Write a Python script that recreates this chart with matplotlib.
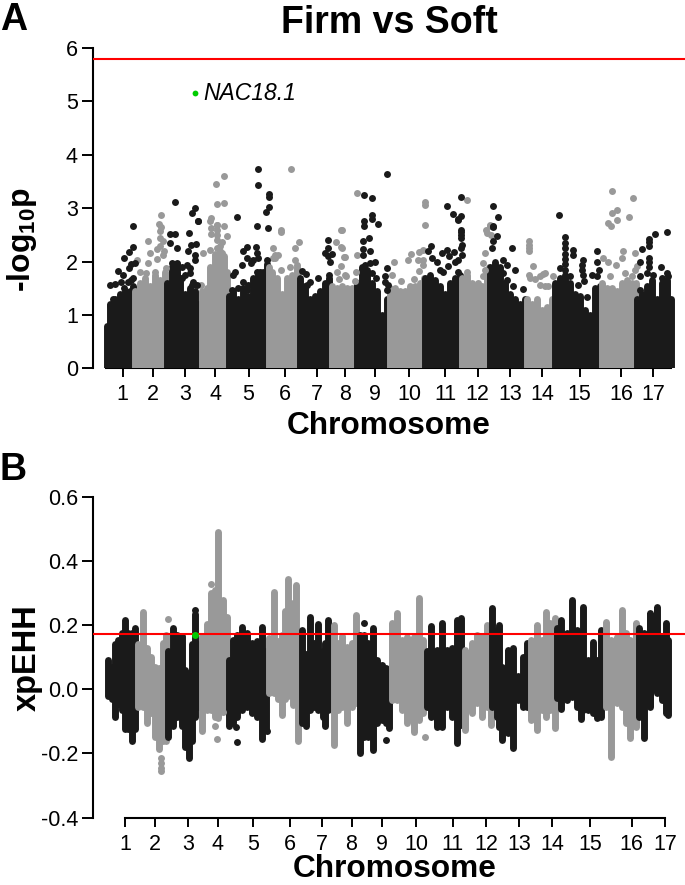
import matplotlib
matplotlib.use('Agg')
import matplotlib.pyplot as plt

plt.rcParams['font.family'] = ['Liberation Sans', 'DejaVu Sans']
plt.rcParams['mathtext.fontset'] = 'custom'
plt.rcParams['mathtext.bf'] = 'Liberation Sans:bold'

BLACK = '#1a1a1a'
GREY = '#999999'
GREEN = '#00cc00'
RED = '#ff0000'

chroms = [str(i) for i in range(1, 18)]

# genome position is in the figure's own unit
a_ticks = [122.7, 152.7, 185, 215, 248.6, 284.7, 316.7, 345, 375, 409, 445.3, 477.7, 510, 542, 579.7, 621, 653]
b_ticks = [125, 155, 188, 218, 253, 290, 322, 351.5, 382, 416, 452.5, 486, 519, 552, 590, 631.5, 665]

# panel A, top of the solid part of each chromosome
a_env_x = [
    [107, 110, 115, 120, 125, 130, 133],
    [135, 140, 145, 150, 155, 160, 165],
    [167, 172, 177, 180, 185, 190, 195, 199],
    [202, 207, 210, 215, 220, 224, 227],
    [229, 233, 238, 243, 248, 253, 258, 263, 267],
    [269, 272, 277, 282, 287, 292, 297],
    [300, 305, 310, 315, 320, 325, 329],
    [332, 337, 342, 347, 352, 355],
    [357, 362, 367, 372, 377, 382, 387],
    [390, 395, 400, 405, 410, 415, 420, 424],
    [425, 430, 435, 440, 445, 450, 455, 460],
    [462, 467, 472, 477, 482, 487, 489],
    [490, 495, 500, 505, 510, 515, 520, 525],
    [527, 532, 537, 542, 547, 552],
    [555, 560, 565, 570, 575, 580, 585, 590, 595, 600],
    [602, 607, 612, 617, 622, 627, 632, 636],
    [637, 642, 647, 652, 657, 662, 667, 671],
]
a_env_y = [
    [0.8, 1.2, 1.3, 1.4, 1.45, 1.45, 1.55],
    [1.45, 1.6, 1.7, 1.55, 1.75, 1.65, 1.8],
    [1.6, 1.9, 1.95, 1.7, 1.4, 1.5, 1.45, 1.2],
    [1.45, 1.5, 1.9, 2.15, 2.2, 2.1, 1.8],
    [1.35, 1.45, 1.3, 1.5, 1.35, 1.7, 1.75, 1.8, 1.95],
    [1.9, 1.8, 1.7, 1.4, 1.7, 1.75, 1.9],
    [1.7, 1.55, 1.3, 1.35, 1.45, 1.6, 1.7],
    [1.55, 1.5, 1.55, 1.5, 1.5, 1.45],
    [1.6, 1.9, 1.85, 1.6, 1.45, 1.0, 1.3],
    [1.5, 1.5, 1.45, 1.45, 1.55, 1.55, 1.6, 1.7],
    [1.7, 1.75, 1.65, 1.55, 1.4, 1.6, 1.7, 1.75],
    [1.7, 1.75, 1.6, 1.5, 1.55, 1.8, 1.9],
    [1.9, 2.0, 1.9, 1.6, 1.4, 1.3, 1.2, 1.3],
    [1.3, 1.2, 1.3, 1.1, 1.15, 1.3],
    [1.6, 1.7, 1.75, 1.6, 1.4, 1.35, 1.1, 1.0, 1.5, 1.55],
    [1.6, 1.5, 1.5, 1.45, 1.6, 1.65, 1.6, 1.6],
    [1.3, 1.4, 1.55, 1.65, 1.3, 1.6, 1.65, 1.3],
]

# panel A, single points above the solid part
a_black_x = [110, 115.3, 110, 112.7, 118.3, 123.3, 120.7, 128.3, 124, 129.3, 133.3, 133.3, 130.7, 129.3, 135, 133.3, 124, 130.7,
             170, 175, 170, 176.7, 189, 190.7, 196, 188.3, 195, 195, 198, 175, 195, 191.7, 197.7, 172, 177, 182, 187, 190, 190, 185, 182, 193, 192, 197,
             237, 257.7, 257.7, 268.7, 268.7, 268.7, 265.7, 257.3, 268.3, 246.7, 243.3, 256, 246.7, 250.7, 257, 258, 253, 241.7, 235, 233.3, 243.3, 248.3, 266.7, 257, 260, 247, 238, 232,
             301.7, 305.7, 318.3, 310, 307, 327.7, 327.7, 325, 331.7, 330, 329.3, 328,
             364, 372.3, 371.7, 372.3, 364, 364, 378.3, 386.7, 363.3, 369.3, 363.3, 370, 362.7, 375, 365, 370, 387.3, 385, 371.7, 376, 388.3, 386.7, 385,
             460.7, 447.3, 453.3, 460.7, 458.3, 460.7, 458.3, 460.7, 460.7, 460.7, 461.7, 460.7, 430.7, 428.3, 431.7, 441.7, 447.3, 454.3, 449.3, 461.7, 458.3, 455, 448.3, 436.7, 440, 443.3, 458.3,
             493, 498.3, 492.7, 492.7, 496.7, 492.7, 491.7, 511.7, 503.3, 506.7, 515, 503.3, 506.7, 513, 523.3, 520,
             559, 565, 565, 565, 565, 565, 565, 565, 572.7, 572.7, 582.7, 581.7, 581.7, 583.3, 584, 596.7, 596.7, 599.3, 596.7, 591.7, 560, 570, 578.3, 586.7,
             667.3, 655, 648.7, 648.7, 648.7, 642, 640, 648.7, 648.7, 648.7, 661, 646.7, 653.3, 666.7, 661.7, 640, 668.3, 640]
a_black_y = [1.56, 1.57, 1.17, 1.3, 1.83, 1.75, 1.62, 1.62, 2.07, 2.17, 2.27, 2.66, 1.96, 1.87, 1.97, 1.7, 1.5, 1.66,
             2.51, 2.51, 2.34, 2.25, 2.53, 2.31, 2.33, 2.19, 2.12, 2.03, 2.75, 3.11, 3.0, 2.9, 2.75, 1.97, 1.97, 1.9, 1.93, 1.87, 1.78, 1.75, 1.69, 1.62, 1.56, 1.56,
             2.84, 3.73, 3.43, 3.27, 3.2, 3.03, 2.92, 2.66, 2.63, 2.28, 2.2, 2.27, 2.07, 1.97, 2.16, 2.06, 2.03, 1.94, 1.81, 1.75, 1.62, 1.56, 2.02, 1.81, 1.81, 1.47, 1.5, 1.47,
             1.83, 1.77, 1.7, 1.62, 1.56, 2.41, 2.25, 2.16, 2.14, 2.0, 1.75, 2.1,
             3.24, 3.19, 2.88, 2.8, 2.75, 2.67, 2.7, 3.64, 2.38, 2.44, 2.23, 2.19, 2.13, 2.0, 1.94, 1.97, 1.88, 1.72, 1.79, 1.69, 1.56, 1.47, 1.62,
             3.21, 3.04, 2.89, 2.85, 2.79, 2.6, 2.78, 2.56, 2.5, 2.44, 2.31, 2.25, 2.29, 2.19, 2.06, 2.16, 2.22, 2.17, 2.11, 2.12, 2.02, 2.0, 1.92, 2.0, 1.84, 1.81, 1.81,
             3.04, 2.83, 2.65, 2.66, 2.48, 2.38, 2.25, 2.25, 2.03, 1.94, 1.84, 1.78, 1.66, 1.54, 1.48, 1.12,
             2.87, 2.46, 2.34, 2.25, 2.15, 2.05, 1.95, 1.85, 2.22, 2.13, 2.03, 1.94, 1.84, 1.75, 1.63, 2.19, 2.0, 1.84, 1.72, 1.75, 1.88, 1.72, 1.56, 1.34,
             2.55, 2.52, 2.42, 2.36, 2.29, 2.23, 1.99, 2.06, 2.0, 1.9, 1.89, 1.78, 1.75, 1.79, 1.69, 1.72, 1.72, 1.47]
a_grey_x = [136.7, 140, 145.7, 148.3, 148.3, 150, 157.3, 156.7, 160, 160, 160, 163, 164.3, 155, 165.7, 163.3, 161, 161, 159.3,
            203.3, 201, 210, 210, 210.7, 210.7, 217.3, 217.3, 224, 217.3, 227.3, 217, 221.7, 220, 216.7, 221.7, 216, 224, 216.7, 224, 210.7, 217,
            291, 281, 273.3, 275, 278, 273.3, 275, 281, 295, 299, 295, 290, 296.7, 281,
            341, 336, 340.7, 344.3, 340.7, 336.7, 339.3, 346, 341.7, 345, 356.7, 345, 356, 355, 356.7, 341.7,
            394.3, 391.7, 400.7, 408.3, 410.7, 419, 418.3, 419, 414, 423.3, 425, 425, 425, 423.3, 422.7,
            467, 483.3, 485, 486.7, 490.7, 490, 467.3, 485, 483.3, 478.3, 490, 486,
            529, 529, 529, 529, 532.7, 529, 543.3, 545, 540, 535, 530, 553.3, 540, 545, 548.3,
            612.3, 633, 611.7, 617.3, 617.3, 629, 608.3, 610.7, 623.3, 621.7, 635, 603.3, 608.3, 616, 625, 636.7, 635, 610, 631.7]
a_grey_y = [2.03, 1.81, 1.79, 2.38, 1.98, 2.16, 2.04, 2.23, 2.44, 2.58, 2.3, 2.38, 2.19, 1.81, 1.87, 2.12, 2.87, 2.65, 2.7,
            2.16, 1.56, 2.22, 2.75, 2.62, 2.51, 2.68, 2.6, 2.67, 2.5, 2.48, 2.4, 2.37, 2.3, 2.25, 2.16, 3.46, 3.6, 3.07, 3.1, 2.81, 2.68,
            3.73, 2.56, 2.25, 2.12, 2.12, 2.06, 2.06, 1.84, 2.25, 2.36, 2.03, 1.9, 1.94, 2.59,
            2.59, 2.36, 2.27, 2.08, 1.92, 1.81, 1.67, 1.73, 2.6, 2.08, 2.13, 1.75, 1.81, 1.63, 3.28, 2.25,
            1.99, 1.75, 1.64, 2.02, 2.14, 2.17, 2.03, 1.83, 1.67, 2.22, 2.69, 3.11, 3.06, 2.03, 1.94,
            3.16, 1.97, 2.16, 2.54, 2.5, 2.67, 1.81, 1.84, 1.72, 1.59, 2.68, 2.6,
            2.38, 2.31, 2.25, 2.19, 1.92, 1.75, 1.76, 1.79, 1.73, 1.67, 1.69, 1.73, 1.56, 1.55, 1.55,
            3.32, 3.19, 2.91, 2.96, 2.78, 2.83, 2.72, 2.67, 2.2, 2.06, 2.16, 2.06, 2.0, 1.94, 1.79, 1.91, 1.84, 1.73, 1.72]

a_hit_x = [195]
a_hit_y = [5.15]
a_cutoff = 5.8

# panel B, range of each chromosome at sampled positions
b_x = [
    [108, 112, 115, 118, 122, 125, 128, 132, 135],
    [138, 143, 147, 151, 155, 159, 163, 166],
    [168, 173, 177, 182, 185, 189, 192, 195, 198],
    [202, 207, 211, 215, 218, 223, 227],
    [229, 233, 237, 242, 247, 252, 257, 262, 266],
    [269, 274, 278, 282, 285, 288, 293, 296, 298],
    [302, 306, 310, 314, 318, 323, 325, 328],
    [334, 338, 342, 347, 352, 356],
    [360, 364, 368, 373, 377, 382, 386, 389],
    [392, 397, 402, 407, 414, 419, 423],
    [427, 431, 437, 442, 447, 452, 457, 461],
    [465, 472, 477, 482, 487, 491],
    [492, 497, 499, 502, 508, 513, 518, 523, 527],
    [531, 537, 542, 546, 550, 555],
    [557, 561, 567, 572, 577, 581, 583, 588, 593, 597, 601],
    [606, 611, 617, 622, 626, 630, 636],
    [639, 644, 650, 657, 662, 666, 668],
]
b_hi = [
    [0.09, 0.07, 0.14, 0.155, 0.175, 0.215, 0.175, 0.175, 0.19],
    [0.14, 0.24, 0.13, 0.10, 0.07, 0.065, 0.145, 0.17],
    [0.12, 0.19, 0.17, 0.165, 0.06, 0.05, 0.14, 0.235, 0.14],
    [0.165, 0.205, 0.30, 0.31, 0.49, 0.28, 0.225],
    [0.09, 0.155, 0.17, 0.195, 0.175, 0.145, 0.15, 0.195, 0.12],
    [0.16, 0.305, 0.15, 0.17, 0.245, 0.345, 0.27, 0.325, 0.145],
    [0.185, 0.11, 0.225, 0.145, 0.205, 0.12, 0.145, 0.215],
    [0.20, 0.145, 0.165, 0.133, 0.144, 0.232],
    [0.17, 0.17, 0.144, 0.19, 0.09, 0.07, 0.065, -0.044],
    [0.206, 0.237, 0.154, 0.164, 0.164, 0.284, 0.154],
    [0.118, 0.196, 0.123, 0.206, 0.123, 0.128, 0.217, 0.222],
    [0.123, 0.144, 0.17, 0.164, 0.2, 0.196],
    [0.253, 0.185, 0.2, 0.07, 0.123, 0.13, 0.04, 0.1, 0.144],
    [0.154, 0.2, 0.154, 0.242, 0.206, 0.222],
    [0.19, 0.217, 0.175, 0.279, 0.185, 0.154, 0.258, 0.09, 0.149, 0.09, 0.185],
    [0.211, 0.154, 0.164, 0.248, 0.175, 0.154, 0.206],
    [0.19, 0.175, 0.237, 0.258, 0.164, 0.206, 0.154],
]
b_lo = [
    [-0.02, -0.03, -0.085, -0.045, -0.065, -0.125, -0.125, -0.16, -0.125],
    [-0.055, -0.055, -0.105, -0.075, -0.15, -0.185, -0.16, -0.16],
    [-0.15, -0.115, -0.085, -0.115, -0.18, -0.215, -0.16, -0.085, -0.055],
    [-0.13, -0.065, -0.065, -0.085, -0.09, -0.065, -0.02],
    [-0.115, -0.105, -0.085, -0.065, -0.055, -0.075, -0.085, -0.155, -0.125],
    [-0.01, -0.01, -0.03, -0.08, -0.03, -0.02, -0.05, -0.045, -0.16],
    [-0.105, -0.115, -0.065, -0.055, -0.065, -0.085, -0.115, -0.065],
    [-0.175, -0.065, -0.055, -0.106, -0.055, -0.044],
    [-0.2, -0.148, -0.148, -0.19, -0.106, -0.096, -0.106, -0.12],
    [-0.033, -0.033, -0.065, -0.106, -0.132, -0.096, -0.075],
    [-0.055, -0.085, -0.117, -0.117, -0.055, -0.085, -0.169, -0.11],
    [-0.127, -0.075, -0.044, -0.085, -0.055, -0.11],
    [-0.055, -0.085, -0.117, -0.158, -0.137, -0.184, -0.033, -0.055, -0.055],
    [-0.096, -0.127, -0.065, -0.085, -0.065, -0.122],
    [-0.028, -0.06, -0.033, -0.023, -0.055, -0.094, -0.065, -0.065, -0.075, -0.09, -0.085],
    [-0.055, -0.21, -0.044, -0.055, -0.106, -0.153, -0.117],
    [-0.085, -0.153, -0.055, -0.012, -0.033, -0.075, -0.08],
]

b_black_x = [237.3, 235.7, 252.3, 266.7, 364, 382.3, 385.7, 195]
b_black_y = [-0.163, -0.118, -0.07, -0.13, 0.208, 0.076, -0.158, 0.247]
b_grey_x = [161, 161, 161, 161, 167.7, 210.7, 215, 217.3, 223.3, 425]
b_grey_y = [-0.215, -0.23, -0.245, -0.255, 0.22, 0.33, -0.115, -0.155, -0.07, -0.148]

b_hit_x = [195]
b_hit_y = [0.168]
b_cutoff = 0.173

DOT = 25        # about 7 px across
DOT_LW = 5.0


def px_axes(fig, top, bottom):
    # place an axes by its pixel rows in the 685x885 picture
    left = 92.5 / 685
    return fig.add_axes([left, 1 - bottom / 885, 1 - left, (bottom - top) / 885])


def style_axis(ax, ticks, yticks, ylabels, bounds, pad):
    ax.set_xlim(92.5, 685)
    ax.patch.set_alpha(0)
    ax.spines['top'].set_visible(False)
    ax.spines['right'].set_visible(False)
    ax.spines['left'].set_linewidth(1.5)
    ax.spines['bottom'].set_linewidth(1.5)
    ax.spines['bottom'].set_bounds(*bounds)
    ax.set_xticks(ticks, chroms)
    ax.set_yticks(yticks, ylabels)
    ax.tick_params(axis='x', length=6.5, width=1.4, labelsize=15.5, pad=pad)
    ax.tick_params(axis='y', length=8, width=1.4, labelsize=15.5, pad=2.5)


fig = plt.figure(figsize=(6.85, 8.85), dpi=100)

# panel A
ax_a = px_axes(fig, 48, 368.3)
ax_a.set_ylim(0, 6)
for i in range(17):
    c = BLACK if i % 2 == 0 else GREY
    ax_a.fill_between(a_env_x[i], 0, a_env_y[i], step='mid', color=c, lw=0, zorder=2)
    ax_a.vlines(a_env_x[i], 0, a_env_y[i], color=c, lw=DOT_LW, capstyle='round', zorder=2)
ax_a.scatter(a_grey_x, a_grey_y, s=DOT, c=GREY, linewidths=0, zorder=2)
ax_a.scatter(a_black_x, a_black_y, s=DOT, c=BLACK, linewidths=0, zorder=3)
ax_a.scatter(a_hit_x, a_hit_y, s=DOT * 0.7, c=GREEN, linewidths=0, zorder=4)
ax_a.text(203, 5.15, 'NAC18.1', style='italic', fontsize=16.5, va='center', ha='left')
ax_a.axhline(a_cutoff, color=RED, lw=1.5, zorder=5)
style_axis(ax_a, a_ticks, [0, 1, 2, 3, 4, 5, 6], ['0', '1', '2', '3', '4', '5', '6'], (106, 671), 4.5)
ax_a.spines['bottom'].set_zorder(1)

# panel B
ax_b = px_axes(fig, 497, 817.5)
ax_b.set_ylim(-0.4, 0.6)
for i in range(17):
    c = BLACK if i % 2 == 0 else GREY
    ax_b.fill_between(b_x[i], b_lo[i], b_hi[i], step='mid', color=c, lw=0, zorder=2)
    ax_b.vlines(b_x[i], b_lo[i], b_hi[i], color=c, lw=DOT_LW, capstyle='round', zorder=2)
ax_b.scatter(b_grey_x, b_grey_y, s=DOT, c=GREY, linewidths=0, zorder=2)
ax_b.scatter(b_black_x, b_black_y, s=DOT, c=BLACK, linewidths=0, zorder=3)
ax_b.axhline(b_cutoff, color=RED, lw=1.5, zorder=4)
ax_b.scatter(b_hit_x, b_hit_y, s=DOT, c=GREEN, linewidths=0, zorder=5)
style_axis(ax_b, b_ticks, [-0.4, -0.2, 0, 0.2, 0.4, 0.6], ['-0.4', '-0.2', '0.0', '0.2', '0.4', '0.6'], (125, 665), 5.5)

# labels sit where the reference has them, given in pixels
def label(x, y, s, **kw):
    fig.text(x / 685, 1 - y / 885, s, **kw)


label(0, 30, 'A', fontsize=27, fontweight='bold', va='baseline', ha='left')
label(0, 480, 'B', fontsize=27, fontweight='bold', va='baseline', ha='left')
label(389, 33, 'Firm vs Soft', fontsize=27, fontweight='bold', va='baseline', ha='center')
label(389, 434, 'Chromosome', fontsize=22.8, fontweight='bold', va='baseline', ha='center')
label(395, 877, 'Chromosome', fontsize=22.8, fontweight='bold', va='baseline', ha='center')
label(30, 239, r'-log$_{\mathbf{10}}$p', fontsize=23, fontweight='bold', rotation=90,
      va='baseline', ha='center', rotation_mode='anchor')
label(36, 658, 'xpEHH', fontsize=23.5, fontweight='bold', rotation=90,
      va='baseline', ha='center', rotation_mode='anchor')

fig.savefig('out.png', dpi=100)
